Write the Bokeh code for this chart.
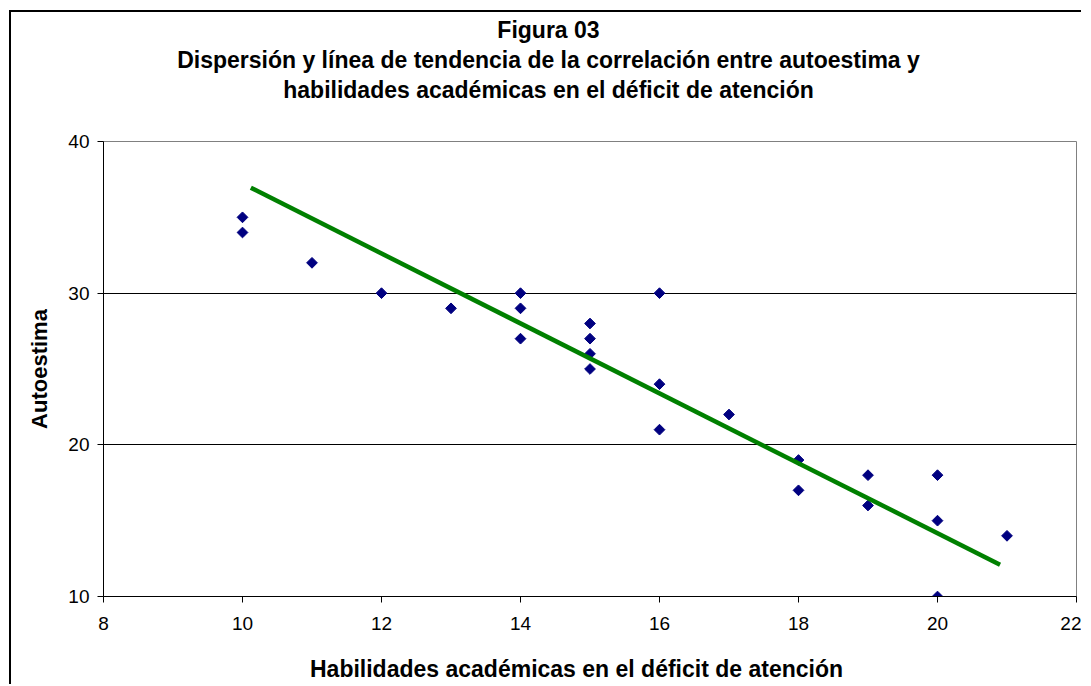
from bokeh.plotting import figure
from bokeh.models import Title, FixedTicker, Range1d
from bokeh.embed import file_html
from bokeh.resources import INLINE

# ---- data ----
habilidades = [10, 10, 11, 12, 13, 14, 14, 14, 15, 15, 15, 15,
               16, 16, 16, 17, 18, 18, 19, 19, 20, 20, 20, 21]
autoestima = [35, 34, 32, 30, 29, 30, 29, 27, 28, 27, 26, 25,
              30, 24, 21, 22, 19, 17, 18, 16, 18, 15, 10, 14]
trend_x = [10.12, 20.9]
trend_y = [36.95, 12.1]
x_ticks = [8, 10, 12, 14, 16, 18, 20, 22]
y_ticks = [10, 20, 30, 40]
y_grid = [20, 30]
title_lines = [
    "Figura 03",
    "Dispersión y línea de tendencia de la correlación entre autoestima y",
    "habilidades académicas en el déficit de atención",
]
x_label = "Habilidades académicas en el déficit de atención"
y_label = "Autoestima"

FONT = "Liberation Sans"
OX, OY = 11, 12                 # canvas origin on the page (frame border + margin)
W, H = 1072, 674
FL, FT, FR, FB = 103 - OX, 141 - OY, 1076 - OX, 596 - OY   # plot frame in canvas px
TITLE_CX = 548 - OX             # centre of the title block
XLAB_CX = 576 - OX              # centre of the x axis title

# approximate bold-sans advance widths (per 1000 em) for centring titles
_BW = {" ": 278, "a": 556, "b": 611, "c": 556, "d": 611, "e": 556, "f": 333,
       "g": 611, "h": 611, "i": 278, "l": 278, "m": 889, "n": 611, "o": 611,
       "p": 611, "r": 389, "s": 556, "t": 333, "u": 611, "y": 556, "é": 556,
       "ó": 611, "í": 278, "D": 722, "F": 611, "H": 722, "0": 556, "3": 556}


def text_w(s, size):
    return sum(_BW.get(ch, 556) for ch in s) * size / 1000.0


TITLE_PX = 23
XLAB_PX = 23

p = figure(width=W, height=H, x_range=Range1d(8, 22), y_range=Range1d(10, 40),
           output_backend="svg", toolbar_location=None,
           min_border_left=FL, min_border_right=W - FR,
           min_border_top=FT, min_border_bottom=H - FB)
p.styles = {"margin-left": "9px", "margin-top": "10px",
            "margin-bottom": "-16px", "margin-right": "-16px",
            "border-top": "2px solid black", "border-left": "2px solid black"}
p.background_fill_color = "white"
p.border_fill_color = "white"
p.outline_line_color = "#808080"
p.outline_line_width = 1

# grid
p.xgrid.visible = False
p.ygrid.ticker = FixedTicker(ticks=y_grid)
p.ygrid.grid_line_color = "black"
p.ygrid.grid_line_width = 1

# axes
for ax in (p.xaxis[0], p.yaxis[0]):
    ax.axis_line_color = "black"
    ax.axis_line_width = 1
    ax.major_tick_line_color = "black"
    ax.major_tick_in = 0
    ax.major_tick_out = 6
    ax.minor_tick_line_color = None
    ax.major_label_text_font = FONT
    ax.major_label_text_font_size = "19px"
    ax.major_label_text_color = "black"
p.xaxis.ticker = FixedTicker(ticks=x_ticks)
p.yaxis.ticker = FixedTicker(ticks=y_ticks)
p.xaxis.major_label_standoff = 14
p.yaxis.major_label_standoff = 8

p.yaxis.axis_label = y_label
p.yaxis.axis_label_text_font = FONT
p.yaxis.axis_label_text_font_style = "bold"
p.yaxis.axis_label_text_font_size = "22px"
p.yaxis.axis_label_text_color = "black"
p.yaxis.axis_label_standoff = 13

# data
p.scatter(habilidades, autoestima, marker="square", size=7.6, angle=0.785398,
          fill_color="#000080", line_color="#000080")
p.line(trend_x, trend_y, line_color="#008000", line_width=4.5)


def side_title(text, size, standoff, cx):
    off = cx - FL - text_w(text, size) / 2.0
    return Title(text=text, align="left", offset=off, standoff=standoff,
                 text_font=FONT, text_font_size=f"{size}px",
                 text_font_style="bold", text_color="black",
                 vertical_align="bottom")


# title block: spacer closest to the frame, then lines 3, 2, 1
p.add_layout(Title(text=" ", text_font_size="2px", standoff=34), "above")
for txt in reversed(title_lines):
    p.add_layout(side_title(txt, TITLE_PX, 2, TITLE_CX), "above")

# x axis title below the axis
p.add_layout(Title(text=" ", text_font_size="2px", standoff=17), "below")
p.add_layout(side_title(x_label, XLAB_PX, 0, XLAB_CX), "below")

open("out.html", "w").write(file_html(p, INLINE))
